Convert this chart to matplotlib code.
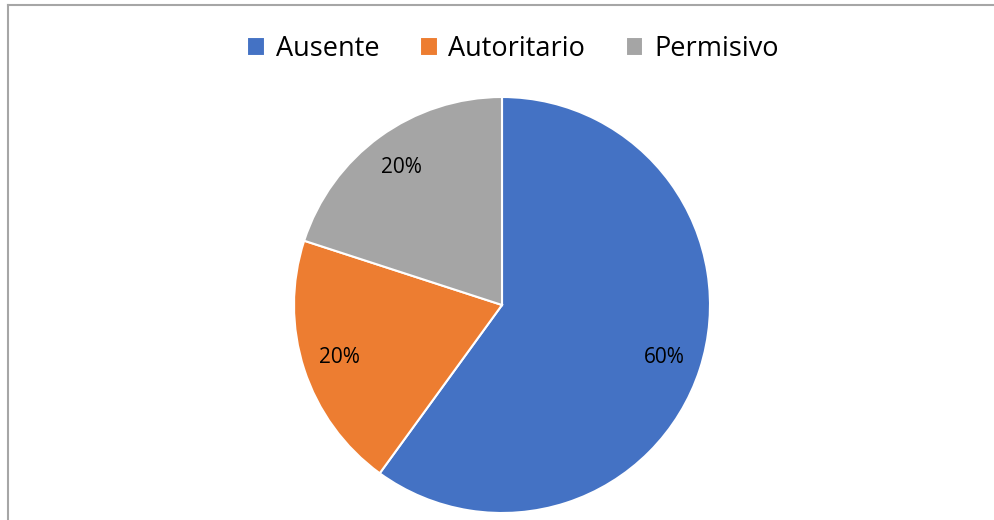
import matplotlib
matplotlib.use("Agg")
import matplotlib.pyplot as plt
from matplotlib.lines import Line2D

categories = ["Ausente", "Autoritario", "Permisivo"]
values = [60, 20, 20]
colors = ["#4472C4", "#ED7D31", "#A5A5A5"]

plt.rcParams["font.family"] = ["Open Sans", "DejaVu Sans"]

fig = plt.figure(figsize=(9.95, 5.2), dpi=100)

# thin frame on left and top like the source image
fig.add_artist(Line2D([8 / 995, 8 / 995], [0, 1 - 5 / 520], color="#A6A6A6", lw=1.5))
fig.add_artist(Line2D([8 / 995, 1], [1 - 5 / 520, 1 - 5 / 520], color="#A6A6A6", lw=1.5))

ax = fig.add_axes([(502 - 208) / 995, (520 - 305 - 208) / 520, 416 / 995, 416 / 520])
wedges, texts, autotexts = ax.pie(
    values, colors=colors, startangle=90, counterclock=False,
    autopct="%1.0f%%", pctdistance=0.82,
    wedgeprops=dict(edgecolor="white", linewidth=1.5),
    textprops=dict(fontsize=15, color="black"),
)
ax.set_xlim(-1, 1)
ax.set_ylim(-1, 1)
ax.set_aspect("equal")

fig.legend(wedges, categories, loc="center", bbox_to_anchor=(513 / 995, 1 - 49 / 520),
           ncol=3, frameon=False, fontsize=19.5, handlelength=0.65, handleheight=0.65,
           handletextpad=0.4, columnspacing=1.5)

fig.savefig("out.png", dpi=100)
